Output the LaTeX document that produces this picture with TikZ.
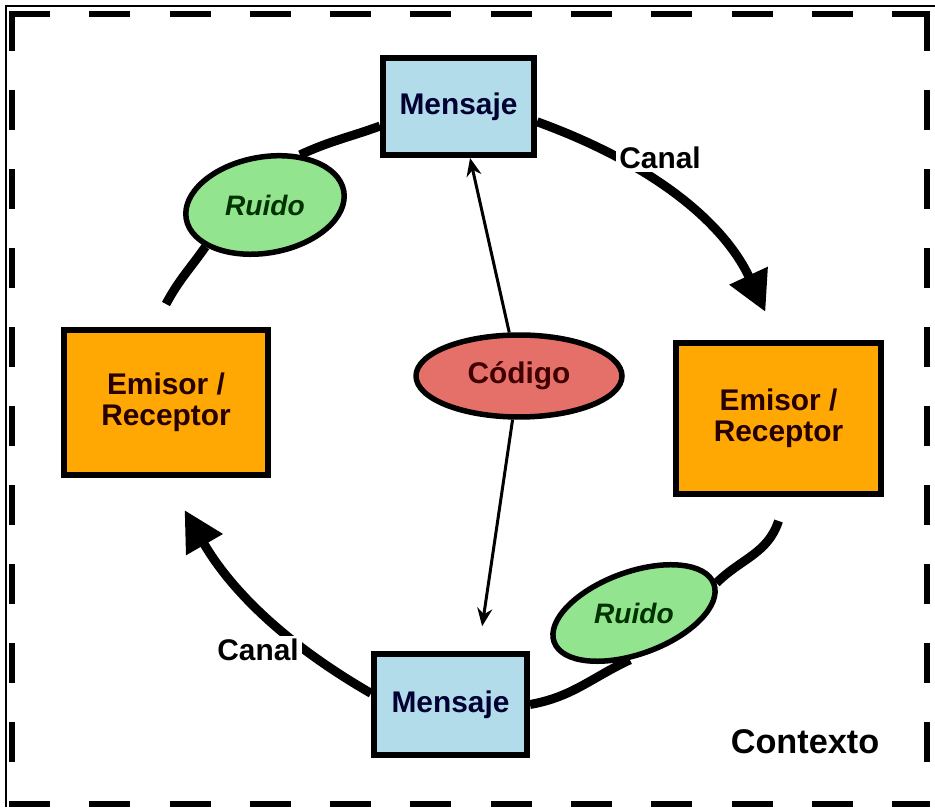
\documentclass[tikz,border=0pt]{standalone}
\usepackage{fontspec}
\setmainfont{Liberation Sans}
\usepackage{tikz}
\usepackage{xcolor}
\usetikzlibrary{shapes.geometric,arrows.meta}
\definecolor{msgblue}{HTML}{B2DCEA}
\definecolor{partyorange}{HTML}{FFA703}
\definecolor{noisegreen}{HTML}{92E48E}
\definecolor{codered}{HTML}{E5706A}
\tikzstyle{msg} = [rectangle,draw,line width=0.12cm,fill=msgblue,minimum width=3.02cm,minimum height=1.94cm,font=\fontsize{17}{20}\selectfont\bfseries,text=black!80!blue]
\tikzstyle{party} = [rectangle,draw,line width=0.12cm,fill=partyorange,minimum width=4.1cm,minimum height=2.9cm,align=center,font=\fontsize{17}{17.5}\selectfont\bfseries,text=black!85!red]
\tikzstyle{noise} = [ellipse,draw,line width=0.11cm,fill=noisegreen,inner sep=0pt,font=\fontsize{16}{18}\selectfont\bfseries\itshape,text=black!80!green]
\tikzstyle{codeell} = [ellipse,draw,line width=0.11cm,fill=codered,inner sep=0pt,minimum width=4.12cm,minimum height=1.64cm,font=\fontsize{17}{20}\selectfont\bfseries,text=black!75!red]
\tikzstyle{chan} = [line width=0.18cm]
\tikzstyle{flow} = [chan,-{Triangle[length=0.8cm,width=0.8cm]}]
\tikzstyle{link} = [line width=0.06cm,-{Stealth[length=0.36cm,width=0.3cm]}]
\tikzstyle{lbl} = [fill=white,inner sep=2pt,font=\fontsize{17}{20}\selectfont\bfseries]
\tikzstyle{hborder} = [line width=0.12cm,line cap=rect,dash pattern=on 0.70cm off 0.906cm]
\tikzstyle{vborder} = [line width=0.12cm,line cap=rect,dash pattern=on 0.68cm off 0.90cm]

\begin{document}
\begin{tikzpicture}[x=0.02cm,y=0.02cm]
    \useasboundingbox (0,0) rectangle (935,807);
    % frame
    \draw [line width=0.05cm] (6,0) -- (6,801) -- (935,801);
    \draw [hborder] (12,792.5) -- (926.5,792.5);
    \draw [hborder] (12,3) -- (926.5,3);
    \draw [vborder] (12,792.5) -- (12,3);
    \draw [vborder] (926.5,792.5) -- (926.5,3);

    \node[msg] (mtop) at (458.5,700.5) {Mensaje};
    \node[msg,minimum width=3.06cm,minimum height=2.02cm] (mbot) at (450.5,102.5) {Mensaje};
    \node[party] (eleft) at (166,404.5) {Emisor /\\Receptor};
    \node[party,minimum height=3.02cm] (eright) at (778.5,388.5) {Emisor /\\Receptor};
    \node[codeell] (cod) at (519,431) {Código};
    \node[noise,rotate=10,minimum width=3.2cm,minimum height=1.92cm] (rtop) at (265,602) {\rotatebox{-10}{Ruido}};
    \node[noise,rotate=20,minimum width=3.4cm,minimum height=1.64cm] (rbot) at (634,194) {\rotatebox{-20}{Ruido}};

    % canal loop
    \draw [flow,shorten >=0.62cm] (mtop.-11) to[out=-20,in=115] (eright.north);
    \draw [chan] ([yshift=-0.48cm]eright.south) to[out=-108,in=45] (rbot.east);
    \draw [chan] (rbot.-115) to[out=205,in=10] (mbot.east);
    \draw [flow,shorten >=0.74cm] (mbot.172) to[out=150,in=-60] (eleft.south);
    \draw [chan] ([yshift=0.46cm]eleft.north) to[out=62,in=-125] (rtop.205);
    \draw [chan] (rtop.45) to[out=25,in=200] (mtop.194);

    \draw [link] (cod) -- (mtop);
    \draw [link,shorten >=0.5cm] (cod) -- ([xshift=0.56cm]mbot.north);

    \node[lbl] (canaltop) at (660,649) {Canal};
    \node[lbl] (canalbot) at (258,157) {Canal};
    \node[font=\fontsize{19.5}{22}\selectfont\bfseries] (ctx) at (805,65) {Contexto};
\end{tikzpicture}
\end{document}
